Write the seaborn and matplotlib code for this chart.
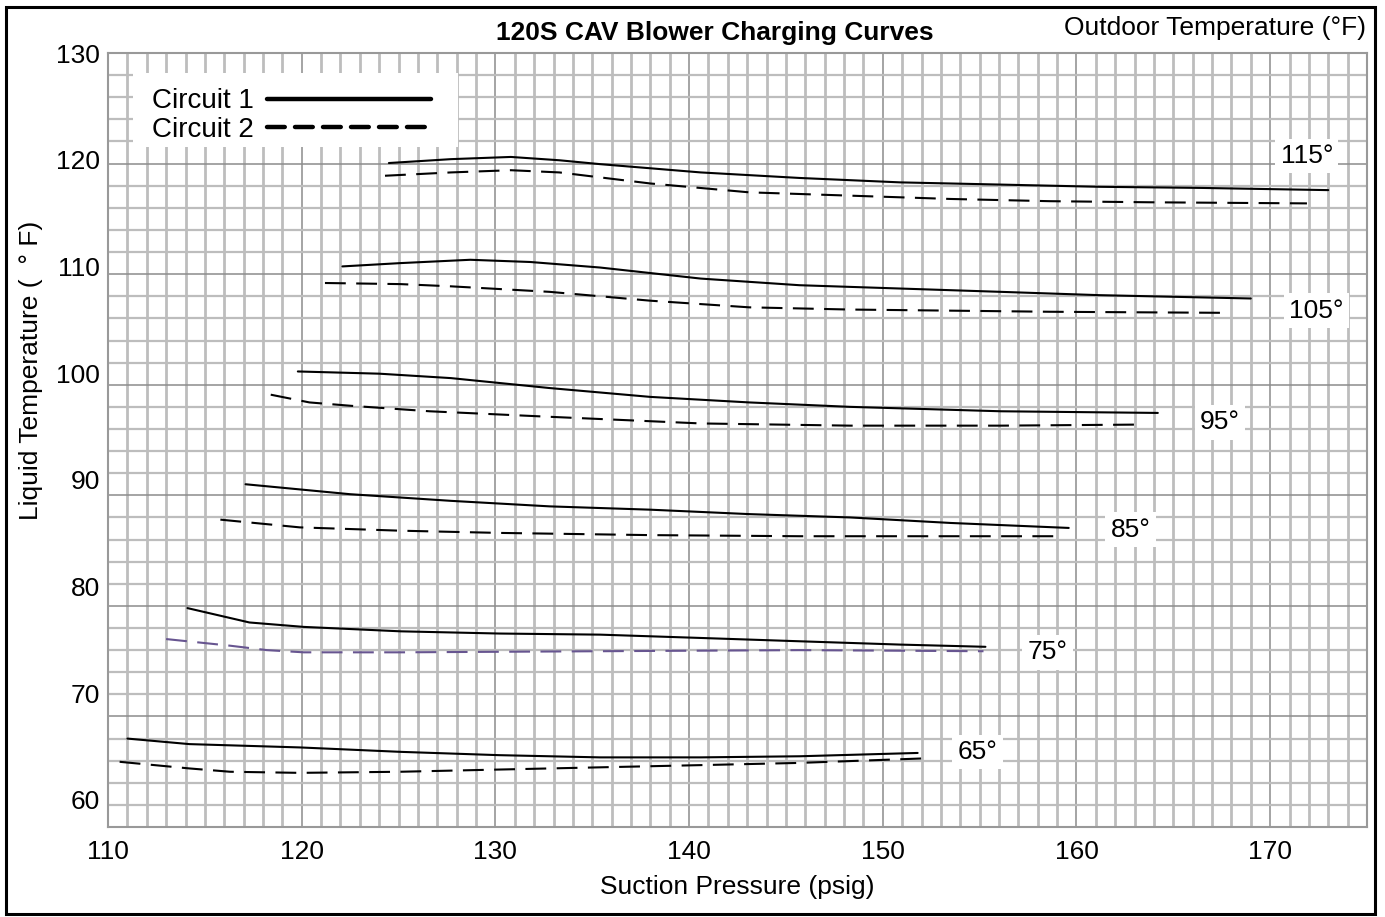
import pandas as pd
import matplotlib
matplotlib.use("Agg")
import matplotlib.pyplot as plt
from matplotlib.lines import Line2D
from matplotlib.patches import Rectangle
from matplotlib.ticker import MultipleLocator
import seaborn as sns

# Outdoor temperatures (°F), one pair of curves for each
outdoor = [115, 105, 95, 85, 75, 65]

# Suction pressure (psig) and liquid temperature (°F)
p115_c1 = [124.5, 127.7, 130.8, 133.3, 135.4, 140.6, 145.7, 150.9, 156.1, 161.2, 166.4, 173.0]
t115_c1 = [120.05, 120.4, 120.6, 120.3, 119.95, 119.2, 118.7, 118.3, 118.1, 117.9, 117.8, 117.6]
p115_c2 = [124.3, 127.7, 130.8, 133.3, 138.0, 143.1, 148.3, 153.5, 158.6, 163.8, 171.9]
t115_c2 = [118.9, 119.2, 119.4, 119.2, 118.2, 117.4, 117.1, 116.8, 116.6, 116.5, 116.4]

p105_c1 = [122.1, 125.1, 128.7, 131.8, 135.4, 140.6, 145.7, 150.9, 156.1, 161.2, 169.0]
t105_c1 = [110.7, 111.0, 111.3, 111.1, 110.6, 109.6, 109.0, 108.7, 108.4, 108.1, 107.8]
p105_c2 = [121.2, 125.1, 127.7, 132.8, 138.0, 143.1, 148.3, 153.5, 158.6, 167.9]
t105_c2 = [109.2, 109.1, 108.9, 108.4, 107.6, 107.0, 106.8, 106.7, 106.6, 106.5]

p95_c1 = [119.8, 124.0, 127.7, 132.8, 138.0, 143.1, 148.3, 156.1, 164.2]
t95_c1 = [101.2, 101.0, 100.6, 99.7, 98.9, 98.4, 98.0, 97.6, 97.45]
p95_c2 = [118.4, 120.4, 122.5, 126.6, 132.8, 140.6, 148.3, 156.1, 163.5]
t95_c2 = [99.1, 98.4, 98.1, 97.6, 97.1, 96.5, 96.3, 96.3, 96.4]

p85_c1 = [117.1, 122.5, 127.7, 132.8, 138.0, 143.1, 148.3, 153.5, 159.6]
t85_c1 = [91.0, 90.1, 89.5, 89.0, 88.7, 88.3, 88.0, 87.5, 87.05]
p85_c2 = [115.8, 119.9, 125.1, 130.2, 138.0, 145.7, 153.5, 159.2]
t85_c2 = [87.8, 87.1, 86.8, 86.6, 86.4, 86.3, 86.3, 86.3]

p75_c1 = [114.1, 117.3, 120.1, 125.1, 130.2, 135.4, 140.6, 145.7, 150.9, 155.3]
t75_c1 = [79.8, 78.5, 78.1, 77.7, 77.5, 77.4, 77.1, 76.8, 76.5, 76.3]
p75_c2 = [113.0, 116.3, 118.2, 120.1, 125.1, 135.4, 145.7, 155.2]
t75_c2 = [77.0, 76.4, 76.0, 75.8, 75.8, 75.9, 76.0, 75.9]

p65_c1 = [111.0, 114.2, 119.9, 125.1, 130.2, 135.4, 140.6, 145.7, 151.8]
t65_c1 = [68.0, 67.5, 67.2, 66.8, 66.5, 66.3, 66.3, 66.4, 66.7]
p65_c2 = [110.6, 114.2, 116.3, 119.9, 125.1, 130.2, 135.4, 140.6, 145.7, 152.0]
t65_c2 = [65.9, 65.3, 65.0, 64.9, 65.0, 65.2, 65.4, 65.6, 65.8, 66.2]

# where the temperature tags sit (psig, °F)
label_x = [171.9, 172.4, 167.4, 162.8, 158.5, 154.9]
label_y = [120.7, 106.7, 96.6, 86.9, 75.8, 66.8]

curvas = [
    (115, "Circuit 1", p115_c1, t115_c1), (115, "Circuit 2", p115_c2, t115_c2),
    (105, "Circuit 1", p105_c1, t105_c1), (105, "Circuit 2", p105_c2, t105_c2),
    (95, "Circuit 1", p95_c1, t95_c1), (95, "Circuit 2", p95_c2, t95_c2),
    (85, "Circuit 1", p85_c1, t85_c1), (85, "Circuit 2", p85_c2, t85_c2),
    (75, "Circuit 1", p75_c1, t75_c1), (75, "Circuit 2", p75_c2, t75_c2),
    (65, "Circuit 1", p65_c1, t65_c1), (65, "Circuit 2", p65_c2, t65_c2),
]

linhas = []
for temp, circ, ps, ts in curvas:
    for p, t in zip(ps, ts):
        linhas.append({"outdoor": temp, "circuit": circ, "psig": p, "liquid": t})
df = pd.DataFrame(linhas)

sns.set_style("white")
plt.rcParams["font.family"] = ["Liberation Sans", "DejaVu Sans"]
plt.rcParams["text.color"] = "black"
plt.rcParams["axes.labelcolor"] = "black"
plt.rcParams["xtick.color"] = "black"
plt.rcParams["ytick.color"] = "black"

fig = plt.figure(figsize=(13.85, 9.17), dpi=100)
ax = fig.add_axes([0.078, 0.0981, 0.909, 0.8441])

# Curvas
for (temp, circ), sub in df.groupby(["outdoor", "circuit"], sort=False):
    cor = "#675590" if (temp == 75 and circ == "Circuit 2") else "black"
    sns.lineplot(data=sub, x="psig", y="liquid", ax=ax, color=cor, lw=1.5,
                 sort=False, estimator=None, legend=False)
    if circ == "Circuit 2":
        ax.lines[-1].set_dashes([10, 5])

# Grade
ax.set_xlim(110, 175)
ax.set_ylim(60, 130)
ax.xaxis.set_major_locator(MultipleLocator(10))
ax.xaxis.set_minor_locator(MultipleLocator(1))
ax.yaxis.set_major_locator(MultipleLocator(10))
ax.yaxis.set_minor_locator(MultipleLocator(2))
ax.grid(which="minor", axis="x", color="#bdbdbd", lw=2.0)
ax.grid(which="minor", axis="y", color="#bdbdbd", lw=1.6)
ax.grid(which="major", color="#8c8c8c", lw=1.1)
ax.set_axisbelow(True)
ax.tick_params(which="both", length=0)
ax.tick_params(axis="x", labelsize=19, pad=9, labelcolor="black")
ax.tick_params(axis="y", labelleft=False)
for s in ax.spines.values():
    s.set_color("#999999")
    s.set_linewidth(1.5)

# rótulos do eixo y (ficam um pouco acima das linhas, como no original)
ay = ax.twinx()
ay.set_ylim(57.45, 130)
ay.set_yticks(range(60, 131, 10))
ay.yaxis.tick_left()
ay.tick_params(length=0, labelsize=19, pad=6, labelcolor="black")
for s in ay.spines.values():
    s.set_visible(False)
ay.grid(False)

ax.set_xlabel("Suction Pressure (psig)", fontsize=19, labelpad=8, color="black")
ax.set_ylabel("Liquid Temperature (  ° F)", fontsize=19, color="black")
ax.yaxis.set_label_coords(-0.052, 0.59)

# etiquetas de temperatura externa
for t, lx, ly in zip(outdoor, label_x, label_y):
    ax.text(lx, ly, f"{t}°", fontsize=19, ha="center", va="center", zorder=4,
            color="black",
            bbox=dict(boxstyle="square,pad=0.2", facecolor="white", edgecolor="none"))

# fundo branco da legenda
ax.add_patch(Rectangle((0.0199, 0.8786), 0.258, 0.0956, transform=ax.transAxes,
                       facecolor="white", edgecolor="none", zorder=4))

# legenda
handles = [
    Line2D([], [], color="black", lw=3.2, solid_capstyle="round"),
    Line2D([], [], color="black", lw=3.2, dashes=(4, 2.3), dash_capstyle="round"),
]
leg = ax.legend(handles, ["Circuit 1", "Circuit 2"], loc="upper left",
                bbox_to_anchor=(0.0286, 0.965), markerfirst=False, fontsize=20,
                handlelength=5.9, handletextpad=0.45, labelspacing=0.1,
                borderpad=0.3, borderaxespad=0, frameon=False)
leg.set_zorder(5)

fig.text(715 / 1385, 1 - 33 / 917, "120S CAV Blower Charging Curves",
         fontsize=19, fontweight="bold", ha="center", va="center", color="black")
fig.text(1366 / 1385, 1 - 28 / 917, "Outdoor Temperature (°F)",
         fontsize=19, ha="right", va="center", color="black")

# moldura da figura
fig.add_artist(Rectangle((0.004, 0.0038), 0.9888, 0.9891, transform=fig.transFigure,
                         fill=False, edgecolor="black", lw=2.2))

fig.savefig("out.png", dpi=100)
plt.close(fig)
